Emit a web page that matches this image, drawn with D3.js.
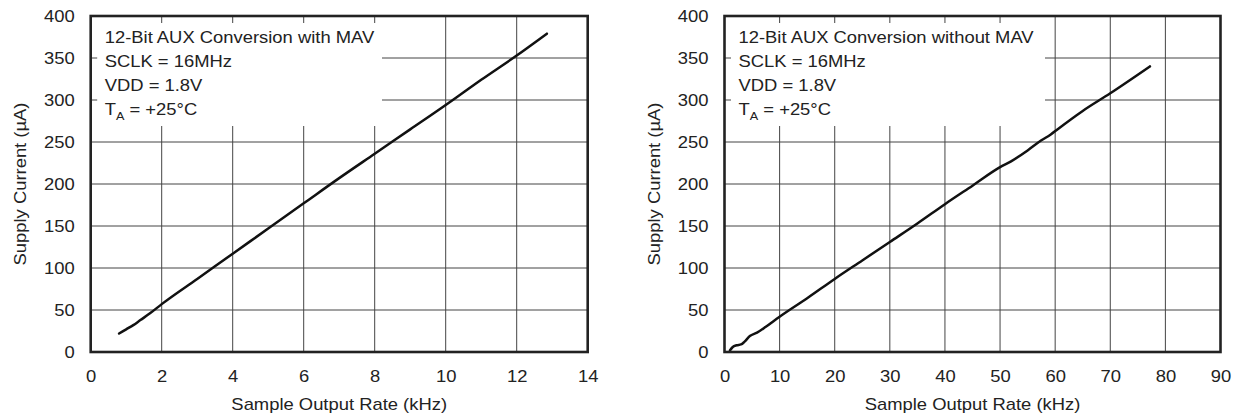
<!DOCTYPE html>
<html>
<head>
<meta charset="utf-8">
<script src="https://cdn.jsdelivr.net/npm/d3@7"></script>
<style>
  body { margin: 0; background: #fff; }
  text { font-family: "Liberation Sans", Arial, sans-serif; }
</style>
</head>
<body>
<div id="chart"></div>
<script>
// Common dimensions
const width = 1237, height = 414;

// Tick values
const currentTicks = [0, 50, 100, 150, 200, 250, 300, 350, 400];
const leftRateTicks = [0, 2, 4, 6, 8, 10, 12, 14];
const rightRateTicks = [0, 10, 20, 30, 40, 50, 60, 70, 80, 90];

// Left panel: with MAV (kHz, uA)
const leftRate =    [0.8, 1.0, 1.2, 1.4, 1.67, 2.0, 3, 4, 5, 6, 7, 8, 9, 10, 10.3, 11, 12, 12.85];
const leftCurrent = [22, 27, 32, 38, 46, 57, 87, 117, 147, 177, 207, 236, 265, 294, 303, 324, 353, 379];

// Right panel: without MAV (kHz, uA)
const rightRate =    [1.0, 1.5, 2.2, 3.0, 3.6, 4.6, 5.9, 7.5, 10, 15, 20, 25, 30, 35, 40, 45, 50, 52, 55, 57.5, 59.2, 60.4, 65, 70, 77.2];
const rightCurrent = [2, 6, 8, 9, 12, 19, 23, 30, 42, 64, 87, 109, 131, 153, 176, 198, 220, 227, 240, 252, 259, 265, 287, 308, 340];

const leftNotes = ["12-Bit AUX Conversion with MAV", "SCLK = 16MHz", "VDD = 1.8V"];
const rightNotes = ["12-Bit AUX Conversion without MAV", "SCLK = 16MHz", "VDD = 1.8V"];

const xTitle = "Sample Output Rate (kHz)";
const yTitle = "Supply Current (\u00B5A)";

// the source lettering is a bit wider than Arial
const stretch = 1.15, fontSize = 16;
const plotTop = 16, plotBottom = 352, boxBottom = 126;
const ink = "#222";

const svg = d3.select("#chart").append("svg")
    .attr("width", width)
    .attr("height", height);

function drawPanel(p) {
    const x = d3.scaleLinear()
        .domain([p.xTicks[0], p.xTicks[p.xTicks.length - 1]])
        .range([p.left, p.right]);
    const y = d3.scaleLinear().domain([0, 400]).range([plotBottom, plotTop]);

    const g = svg.append("g");

    // grid
    g.append("g").selectAll("line")
        .data(p.xTicks.slice(1, -1))
        .join("line")
        .attr("x1", d => x(d)).attr("x2", d => x(d))
        .attr("y1", plotTop).attr("y2", plotBottom)
        .attr("stroke", "#444").attr("stroke-width", 1);

    g.append("g").selectAll("line")
        .data(currentTicks.slice(1, -1))
        .join("line")
        .attr("x1", p.left).attr("x2", p.right)
        .attr("y1", d => y(d)).attr("y2", d => y(d))
        .attr("stroke", "#444").attr("stroke-width", 1);

    // white box behind the notes
    g.append("rect")
        .attr("x", p.left + 6.5)
        .attr("y", plotTop + 7)
        .attr("width", p.boxRight - p.left - 6.5)
        .attr("height", boxBottom - plotTop - 7)
        .attr("fill", "#fff");

    // notes
    const notes = g.append("g").attr("fill", ink).attr("font-size", fontSize);
    p.notes.forEach((t, i) => {
        notes.append("text")
            .attr("transform", `translate(${p.left + 14},${42.5 + i * 24}) scale(${stretch},1)`)
            .text(t);
    });
    const ta = notes.append("text")
        .attr("transform", `translate(${p.left + 14},${42.5 + 3 * 24}) scale(${stretch},1)`);
    ta.append("tspan").text("T");
    ta.append("tspan").attr("font-size", 11).attr("dy", 5).text("A");
    ta.append("tspan").attr("dy", -5).text(" = +25\u00B0C");

    // curve
    const pts = p.rate.map((r, i) => [r, p.current[i]]);
    g.append("path")
        .datum(pts)
        .attr("fill", "none")
        .attr("stroke", "#111")
        .attr("stroke-width", 2.5)
        .attr("stroke-linejoin", "round")
        .attr("stroke-linecap", "round")
        .attr("d", d3.line().x(d => x(d[0])).y(d => y(d[1])).curve(d3.curveMonotoneX));

    // frame
    g.append("rect")
        .attr("x", p.left).attr("y", plotTop)
        .attr("width", p.right - p.left).attr("height", plotBottom - plotTop)
        .attr("fill", "none").attr("stroke", ink).attr("stroke-width", 2.6);

    // y axis labels
    const yAxis = g.append("g")
        .attr("transform", `translate(${p.left},0)`)
        .call(d3.axisLeft(y).tickValues(currentTicks).tickSize(0).tickPadding(16))
        .attr("font-size", fontSize).attr("font-family", null).attr("color", ink);
    yAxis.select(".domain").remove();
    yAxis.selectAll("text")
        .attr("x", 0)
        .attr("transform", `translate(-16,0) scale(${stretch},1)`);

    // x axis labels
    const xAxis = g.append("g")
        .attr("transform", `translate(0,${plotBottom})`)
        .call(d3.axisBottom(x).tickValues(p.xTicks).tickSize(0).tickPadding(19))
        .attr("font-size", fontSize).attr("font-family", null).attr("color", ink);
    xAxis.select(".domain").remove();
    xAxis.selectAll("text").attr("transform", `scale(${stretch},1)`);

    // titles
    g.append("text")
        .attr("transform", `translate(${(p.left + p.right) / 2},410) scale(${stretch},1)`)
        .attr("text-anchor", "middle").attr("font-size", fontSize).attr("fill", ink)
        .text(xTitle);

    g.append("text")
        .attr("transform", `translate(${p.left - 70},${(plotTop + plotBottom) / 2}) rotate(-90) scale(${stretch},1)`)
        .attr("text-anchor", "middle").attr("dy", "0.35em")
        .attr("font-size", fontSize).attr("fill", ink)
        .text(yTitle);
}

drawPanel({ left: 90.7, right: 587.7, boxRight: 382, xTicks: leftRateTicks,
            rate: leftRate, current: leftCurrent, notes: leftNotes });
drawPanel({ left: 724.5, right: 1220.5, boxRight: 1045, xTicks: rightRateTicks,
            rate: rightRate, current: rightCurrent, notes: rightNotes });
</script>
</body>
</html>
